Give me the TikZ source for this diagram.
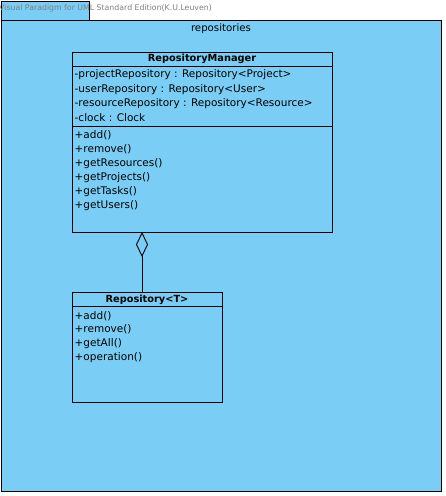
\documentclass[tikz,border=0pt]{standalone}
\usepackage{fontspec}
\setmainfont{DejaVu Sans}
\usetikzlibrary{arrows.meta}
\definecolor{umlBlue}{RGB}{122,206,245}
\begin{document}
\begin{tikzpicture}
[x=1pt,y=-1pt,
  boxDecorate/.style={shape=rectangle,draw,line width=0.9pt,fill=umlBlue,anchor=north west,inner sep=0pt},
  titleDecorate/.style={font=\fontsize{9.8}{11}\selectfont\bfseries,inner sep=0pt},
  memberDecorate/.style={font=\fontsize{10.5}{12}\selectfont,anchor=west,inner sep=0pt},
  lineDecorate/.style={line width=0.9pt}]
\useasboundingbox (0,0) rectangle (446,496);
%% package
\node (tab) at (1,1) [boxDecorate,minimum width=88pt,minimum height=19pt] {};
\node (pkg) at (1,20) [boxDecorate,minimum width=440pt,minimum height=471pt] {};
\node (pkgname) at (221,29) [memberDecorate,anchor=center,font=\fontsize{10.2}{12}\selectfont] {repositories};
\node (mark) at (-1,8) [memberDecorate,text=gray,font=\fontsize{7.8}{9}\selectfont] {Visual Paradigm for UML Standard Edition(K.U.Leuven)};
%% classes
\node (mgr) at (72,52) [boxDecorate,minimum width=260pt,minimum height=180pt] {};
\node (mgrname) at (202,59) [titleDecorate] {RepositoryManager};
\draw[lineDecorate] (72,66) -- (332,66);
\draw[lineDecorate] (72,126) -- (332,126);
\foreach \i/\txt in {
  0/{-projectRepository : Repository<Project>},
  1/{-userRepository : Repository<User>},
  2/{-resourceRepository : Repository<Resource>},
  3/{-clock : Clock}}
{
  \node (mgrattr\i) at (74.5,75+14.2*\i) [memberDecorate] {\txt};
}
\foreach \i/\txt in {
  0/{+add()}, 1/{+remove()}, 2/{+getResources()},
  3/{+getProjects()}, 4/{+getTasks()}, 5/{+getUsers()}}
{
  \node (mgrop\i) at (74.5,135+14.2*\i) [memberDecorate] {\txt};
}
\node (repo) at (72,292) [boxDecorate,minimum width=150pt,minimum height=110pt] {};
\node (reponame) at (147,300) [titleDecorate] {Repository<T>};
\draw[lineDecorate] (72,306) -- (222,306);
\foreach \i/\txt in {
  0/{+add()}, 1/{+remove()}, 2/{+getAll()}, 3/{+operation()}}
{
  \node (repoop\i) at (74.5,316+13.7*\i) [memberDecorate] {\txt};
}
%% aggregation
\coordinate (aggEnd) at (142,232);
\coordinate (aggStart) at (142,292);
\draw[lineDecorate,-{Diamond[open,length=25pt,width=12pt,fill=umlBlue]}] (aggStart) -- (aggEnd);
\end{tikzpicture}
\end{document}
